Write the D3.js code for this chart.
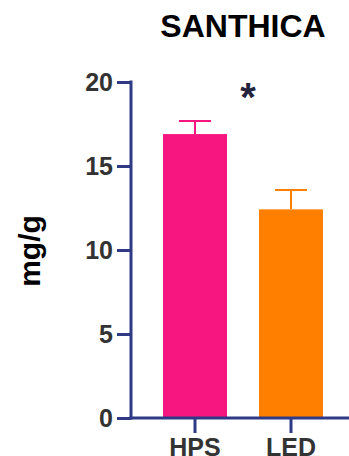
<!DOCTYPE html>
<html>
<head>
<meta charset="utf-8">
<script src="https://cdn.jsdelivr.net/npm/d3@7"></script>
<style>
  html, body { margin: 0; padding: 0; background: #fff; }
  svg { display: block; }
</style>
</head>
<body>
<svg id="chart" width="349" height="456"></svg>
<script>
// Carotenoid content per lamp type (mean ± SEM)
const groups = ["HPS", "LED"];
const means = [16.9, 12.42];
const sems = [0.78, 1.15];
const barColors = ["#f7157f", "#ff8000"];
const yTicks = [0, 5, 10, 15, 20];

const svg = d3.select("#chart");
const axisColor = "#2e3a85";
const labelColor = "#333333";
const font = "'Liberation Sans', Arial, Helvetica, sans-serif";

const y = d3.scaleLinear().domain([0, 20]).range([418, 82]);
const x = d3.scaleBand().domain(groups).range([147, 339])
  .paddingInner(1 / 3).paddingOuter(1 / 6);

// Bars
svg.append("g").selectAll("rect").data(groups).join("rect")
  .attr("x", d => x(d))
  .attr("width", x.bandwidth())
  .attr("y", (d, i) => y(means[i]))
  .attr("height", (d, i) => y(0) - y(means[i]))
  .attr("fill", (d, i) => barColors[i]);

// Upper error bars
const capHalf = 16;
const eb = svg.append("g").selectAll("g").data(groups).join("g")
  .attr("stroke", (d, i) => barColors[i])
  .attr("stroke-width", 2);
eb.append("line")
  .attr("x1", d => x(d) + x.bandwidth() / 2)
  .attr("x2", d => x(d) + x.bandwidth() / 2)
  .attr("y1", (d, i) => y(means[i]))
  .attr("y2", (d, i) => y(means[i] + sems[i]));
eb.append("line")
  .attr("x1", d => x(d) + x.bandwidth() / 2 - capHalf)
  .attr("x2", d => x(d) + x.bandwidth() / 2 + capHalf)
  .attr("y1", (d, i) => y(means[i] + sems[i]))
  .attr("y2", (d, i) => y(means[i] + sems[i]));

// Y axis
const yAxis = svg.append("g")
  .attr("transform", "translate(131,0)")
  .call(d3.axisLeft(y).tickValues(yTicks).tickSize(14).tickSizeOuter(0).tickPadding(4));
yAxis.select(".domain").attr("stroke", axisColor).attr("stroke-width", 3)
  .attr("d", `M0,${y(20) - 1.5}V${y(0) + 1.5}`);
yAxis.selectAll(".tick line").attr("stroke", axisColor).attr("stroke-width", 3);
yAxis.selectAll(".tick text")
  .attr("fill", labelColor)
  .style("font-family", font).style("font-weight", "bold").style("font-size", "25px");

// X axis
const xAxis = svg.append("g")
  .attr("transform", "translate(0,418)")
  .call(d3.axisBottom(x).tickSize(15).tickSizeOuter(0).tickPadding(5));
xAxis.select(".domain").attr("stroke", axisColor).attr("stroke-width", 3)
  .attr("d", "M129.5,0H349");
xAxis.selectAll(".tick line").attr("stroke", axisColor).attr("stroke-width", 3);
xAxis.selectAll(".tick text")
  .attr("fill", labelColor)
  .style("font-family", font).style("font-weight", "bold").style("font-size", "25px");

// Title
svg.append("text")
  .attr("x", 243).attr("y", 37)
  .attr("text-anchor", "middle")
  .style("font-family", font).style("font-weight", "bold").style("font-size", "32px")
  .attr("fill", "#000")
  .text("SANTHICA");

// Y axis title
svg.append("text")
  .attr("transform", "translate(40,251) rotate(-90)")
  .attr("text-anchor", "middle")
  .style("font-family", font).style("font-weight", "bold").style("font-size", "30px")
  .attr("fill", "#000")
  .text("mg/g");

// Significance marker
svg.append("text")
  .attr("x", 248).attr("y", 111)
  .attr("text-anchor", "middle")
  .style("font-family", font).style("font-weight", "bold").style("font-size", "40px")
  .attr("fill", "#23233b")
  .text("*");
</script>
</body>
</html>
